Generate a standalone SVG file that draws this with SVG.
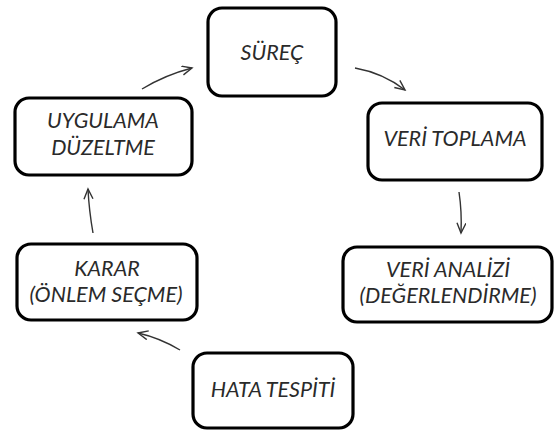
<svg xmlns="http://www.w3.org/2000/svg" width="555" height="431" viewBox="0 0 555 431">
<style>
.box{fill:#fff;stroke:#000;stroke-width:3.2}
.t{font-family:Lato,"Open Sans",sans-serif;font-style:italic;font-size:21.5px;fill:#2a2a2a;text-anchor:middle}
.c{fill:none;stroke:#333;stroke-width:1.4}
</style>
<defs>
<marker id="ah" markerUnits="userSpaceOnUse" markerWidth="14" markerHeight="12" refX="11" refY="5" orient="auto">
<path d="M1,0.5 L11,5 L1,9.5" fill="none" stroke="#333" stroke-width="1.4"/>
</marker>
</defs>
<rect width="555" height="431" fill="#fff"/>
<g id="connectors">
<path class="c" d="M355,68 Q383,73 405,90" marker-end="url(#ah)"/>
<path class="c" d="M459,192 Q462,212 461,233" marker-end="url(#ah)"/>
<path class="c" d="M415,282 Q392,296 366,316" marker-end="url(#ah)"/>
<path class="c" d="M180,350 Q160,338 138,333" marker-end="url(#ah)"/>
<path class="c" d="M93,233 Q89,210 88,189" marker-end="url(#ah)"/>
<path class="c" d="M142,89 Q165,75 192,68" marker-end="url(#ah)"/>
</g>
<g id="surec"><rect class="box" x="208" y="8" width="128" height="88" rx="14"/><text class="t" x="272" y="60">SÜREÇ</text></g>
<g id="veri-toplama"><rect class="box" x="368" y="103" width="174" height="77" rx="14"/><text class="t" x="455" y="146">VERİ TOPLAMA</text></g>
<g id="veri-analizi"><rect class="box" x="343" y="247" width="209" height="75" rx="14"/><text class="t" x="448" y="277">VERİ ANALİZİ</text><text class="t" x="448" y="303">(DEĞERLENDİRME)</text></g>
<g id="hata-tespiti"><rect class="box" x="193" y="353" width="160" height="75" rx="14"/><text class="t" x="273" y="397">HATA TESPİTİ</text></g>
<g id="karar"><rect class="box" x="17" y="244" width="180" height="76" rx="14"/><text class="t" x="107" y="276">KARAR</text><text class="t" x="106" y="302">(ÖNLEM SEÇME)</text></g>
<g id="uygulama"><rect class="box" x="15" y="98" width="177" height="77" rx="14"/><text class="t" x="103" y="128">UYGULAMA</text><text class="t" x="103" y="155">DÜZELTME</text></g>
</svg>
